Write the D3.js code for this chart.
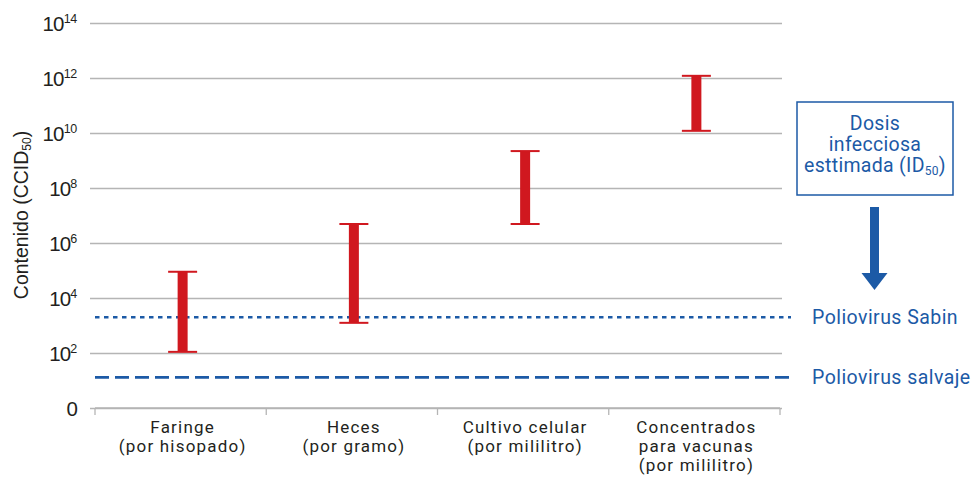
<!DOCTYPE html>
<html><head><meta charset="utf-8">
<script src="https://cdn.jsdelivr.net/npm/d3@7"></script>
<style>
html,body{margin:0;padding:0;background:#fff;}
svg{display:block;}
</style></head>
<body>
<svg id="chart" width="979" height="480"></svg>
<script>
// ---- data ----
const categories = ["Faringe|(por hisopado)", "Heces|(por gramo)", "Cultivo celular|(por mililitro)", "Concentrados|para vacunas|(por mililitro)"];
const lowValues  = [1.1e2, 1.25e3, 4.9e6, 1.2e10];
const highValues = [9.0e4, 4.9e6, 2.2e9, 1.2e12];
const tickExponents = [0, 2, 4, 6, 8, 10, 12, 14];
const sabinLevel = 2.0e3;
const wildLevel = 13;
const thresholdLabels = ["Poliovirus Sabin", "Poliovirus salvaje"];
const boxLines = ["Dosis", "infecciosa", "esttimada (ID|50|)"];
const yTitle = ["Contenido (CCID", "50", ")"];

// ---- setup ----
const svg = d3.select("#chart");
const RED = "#d0181f", BLUE = "#1c5aa6", GRID = "#b5b5b5", TXT = "#231f20";
const DIN = "Roboto, 'Open Sans', sans-serif";
const SANS = "'Liberation Sans', Arial, sans-serif";

const y = d3.scaleLog().domain([1, 1e14]).range([408, 23]);
const x = d3.scaleBand().domain(categories).range([95, 780]).padding(0);

// gridlines / y axis
const yAxis = d3.axisLeft(y)
  .tickValues(tickExponents.map(e => Math.pow(10, e)))
  .tickSize(-692).tickPadding(13).tickFormat(() => "");
const gy = svg.append("g").attr("transform", "translate(90,0)").call(yAxis);
gy.select(".domain").remove();
gy.selectAll(".tick line").attr("stroke", GRID).attr("stroke-width", 1.3);
gy.selectAll(".tick text").remove();
gy.selectAll(".tick").each(function(d, i) {
  const e = tickExponents[i];
  const t = d3.select(this).append("text")
    .attr("x", -13).attr("y", 7.5).attr("text-anchor", "end")
    .attr("fill", TXT).style("font-family", SANS).style("font-size", "20.5px").style("letter-spacing", "-0.8px");
  if (e === 0) {
    t.text("0");
  } else {
    t.append("tspan").text("10");
    t.append("tspan").attr("dy", -8).style("font-size", "12.5px").style("letter-spacing", "-0.3px").text(String(e));
  }
});

// x axis line + boundary ticks
const xAxis = d3.axisBottom(x).tickSize(0).tickFormat(() => "");
const gx = svg.append("g").attr("transform", "translate(0,408)").call(xAxis);
gx.select(".domain").attr("stroke", GRID).attr("stroke-width", 1.3).attr("d", "M95,0H780");
const bounds = categories.map(c => x(c)).concat([x.range()[1]]);
gx.selectAll(".bound").data(bounds).join("line").attr("class", "bound")
  .attr("x1", d => d).attr("x2", d => d).attr("y1", 0).attr("y2", 7)
  .attr("stroke", GRID).attr("stroke-width", 1.3);
gx.selectAll(".tick").each(function(d) {
  const lines = d.split("|");
  const g = d3.select(this);
  lines.forEach((l, k) => g.append("text").attr("text-anchor", "middle")
    .attr("fill", TXT).style("font-family", DIN).style("font-size", "17px").style("letter-spacing", "1.2px")
    .attr("x", 2).attr("y", 25 + k * 19).text(l));
});

// threshold lines
svg.append("line").attr("x1", 95).attr("x2", 791).attr("y1", y(sabinLevel)).attr("y2", y(sabinLevel))
  .attr("stroke", BLUE).attr("stroke-width", 2.6).attr("stroke-dasharray", "4.5,4.5");
svg.append("line").attr("x1", 95).attr("x2", 792).attr("y1", y(wildLevel)).attr("y2", y(wildLevel))
  .attr("stroke", BLUE).attr("stroke-width", 2.6).attr("stroke-dasharray", "14,6");
[sabinLevel, wildLevel].forEach((v, i) => {
  svg.append("text").attr("x", 812).attr("y", y(v) + 7).attr("fill", BLUE)
    .style("font-family", DIN).style("font-size", "19.5px").style("letter-spacing", "0.45px").text(thresholdLabels[i]);
});

// error bars
const bars = svg.append("g");
categories.forEach((c, i) => {
  const cx = x(c) + x.bandwidth() / 2 + 2;
  const top = y(highValues[i]), bot = y(lowValues[i]);
  bars.append("rect").attr("x", cx - 5).attr("width", 10).attr("y", top).attr("height", bot - top).attr("fill", RED);
  [top, bot].forEach(yy => bars.append("line").attr("x1", cx - 14.5).attr("x2", cx + 14.5)
    .attr("y1", yy).attr("y2", yy).attr("stroke", RED).attr("stroke-width", 2));
});

// box + arrow
svg.append("rect").attr("x", 797).attr("y", 102).attr("width", 156).attr("height", 93)
  .attr("fill", "#fff").attr("stroke", BLUE).attr("stroke-width", 1.5);
boxLines.forEach((l, k) => {
  const t = svg.append("text").attr("x", 875).attr("y", 130 + k * 21).attr("text-anchor", "middle")
    .attr("fill", BLUE).style("font-family", DIN).style("font-size", "19.5px").style("letter-spacing", "0.3px");
  const parts = l.split("|");
  t.append("tspan").text(parts[0]);
  if (parts.length > 1) {
    t.append("tspan").attr("dy", 3).style("font-size", "12px").text(parts[1]);
    t.append("tspan").attr("dy", -3).text(parts[2]);
  }
});
svg.append("rect").attr("x", 870).attr("y", 207).attr("width", 9).attr("height", 67).attr("fill", BLUE);
svg.append("path").attr("d", "M861.5,273 L887.5,273 L874.5,290 Z").attr("fill", BLUE);

// y title
const yt = svg.append("text").attr("transform", "translate(28,215) rotate(-90)")
  .attr("text-anchor", "middle").attr("fill", TXT).style("font-family", SANS).style("font-size", "19.5px");
yt.append("tspan").text(yTitle[0]);
yt.append("tspan").attr("dy", 3).style("font-size", "12px").text(yTitle[1]);
yt.append("tspan").attr("dy", -3).text(yTitle[2]);
</script>
</body></html>
